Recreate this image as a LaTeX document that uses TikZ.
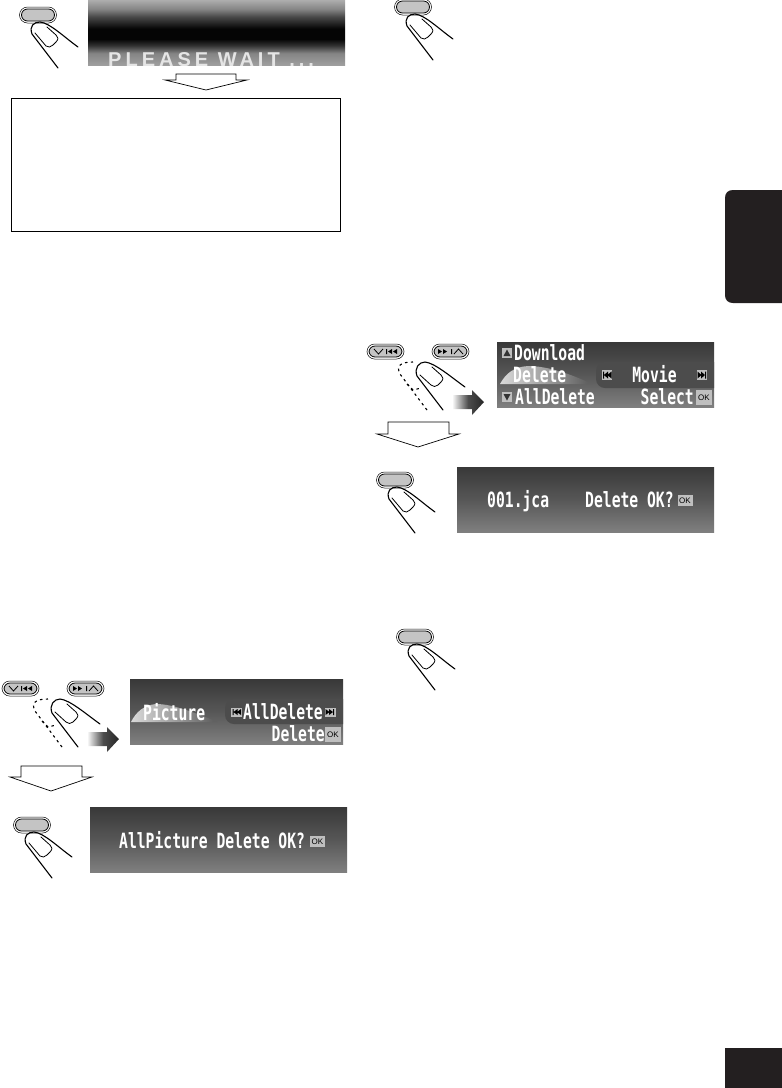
\documentclass[tikz,border=0pt]{standalone}
\usepackage{fontspec}
\newfontfamily\lcdfont[FakeStretch=0.7]{DejaVu Sans Mono Bold}
\newfontfamily\sansb{Liberation Sans}
\newfontfamily\waitfont[LetterSpace=20]{Liberation Sans Bold}
\definecolor{ink}{HTML}{231F20}
\definecolor{btn}{HTML}{C4C4C4}
\pgfdeclareverticalshading{lcdgrad}{100bp}{color(0bp)=(black!50);color(25bp)=(black!50);color(50bp)=(black!66);color(75bp)=(black!78);color(100bp)=(black!78)}
\pgfdeclareverticalshading{waitgrad}{100bp}{color(0bp)=(black!38);color(25bp)=(black!38);color(34bp)=(black!48);color(40bp)=(black!80);color(45bp)=(black!98);color(53bp)=(black!98);color(62bp)=(black!72);color(68bp)=(black!48);color(75bp)=(black!32);color(100bp)=(black!32)}
\pgfdeclarehorizontalshading{arrowgrad}{100bp}{color(0bp)=(white);color(25bp)=(white);color(50bp)=(black!70);color(75bp)=(black!85);color(100bp)=(black!85)}
\pgfdeclarehorizontalshading{swoosh}{100bp}{color(0bp)=(black!15);color(25bp)=(black!15);color(50bp)=(black!38);color(72bp)=(black!62);color(100bp)=(black!62)}
\tikzset{
  px/.style={x=1pt,y=-1pt},
  lcdbox/.style={shading=lcdgrad},
  lcdtxt/.style={text=white,font=\lcdfont\fontsize{21}{21}\selectfont,inner sep=0pt},
  oktag/.style={fill=black!25,text=black,font=\sansb\fontsize{8}{8}\selectfont,inner sep=0pt,minimum width=16pt,minimum height=15pt},
  oksmall/.style={oktag,minimum width=15pt,minimum height=11pt},
  skipbox/.style={fill=black!25},
  fingerline/.style={draw=black,line width=1.1pt,line cap=round,line join=round},
  nailline/.style={draw=black,line width=.8pt,line cap=round,line join=round},
  ghostline/.style={draw=black,line width=1.1pt,dash pattern=on 2.5pt off 3.5pt},
  flowarrow/.style={draw=black,line width=.7pt,fill=white,line join=miter},
  panel/.style={fill=black!70,rounded corners=9pt},
  pics/pressbtn/.style={code={
    \draw[black,line width=.5pt,fill=white,rounded corners=8pt] (-18.5,-8) rectangle (18.5,8);
    \draw[black,line width=.8pt,fill=btn,rounded corners=6pt] (-16.5,-6) rectangle (16.5,6);
    \draw[fingerline] (20,53) -- (-6,19) .. controls (-9,11) and (-4,7) .. (2,7) .. controls (12,8) and (26,22) .. (40,32);
    \draw[nailline] (-3,18) -- (8,31) .. controls (10,33) and (13,32) .. (15,30) -- (18,27) .. controls (21,24) and (20,22) .. (18,20) -- (9,12);
  }},
  pics/slidehand/.style={code={
    \draw[black,line width=.5pt,fill=white,rounded corners=7.5pt] (0,0) rectangle (37,15);
    \draw[black,line width=.8pt,fill=btn,rounded corners=6pt] (2,2) rectangle (35,13);
    \draw[black,line width=.8pt] (7,5) -- (11.5,10) -- (16,5);
    \fill[black] (19,5) rectangle (20,10) (25,5) -- (21,7.5) -- (25,10) -- cycle (30,5) -- (26,7.5) -- (30,10) -- cycle;
    \draw[black,line width=.5pt,fill=white,rounded corners=7.5pt] (65,0) rectangle (102,15);
    \draw[black,line width=.8pt,fill=btn,rounded corners=6pt] (67,2) rectangle (100,13);
    \draw[black,line width=.8pt] (87,10) -- (91.5,5) -- (96,10);
    \fill[black] (84,5) rectangle (85,10) (71,5) -- (75,7.5) -- (71,10) -- cycle (76,5) -- (80,7.5) -- (76,10) -- cycle;
    \draw[ghostline] (60,66) -- (33,30) .. controls (29,22) and (33,18) .. (46,18);
    \draw[ghostline] (40,40) -- (46,46) -- (54,44);
    \draw[fingerline] (76,66) -- (50,32) .. controls (47,24) and (52,18) .. (58,18) .. controls (68,19) and (84,33) .. (98,43);
    \draw[nailline] (53,31) -- (64,41) .. controls (66,43) and (69,43) .. (71,41) -- (74,38) .. controls (77,35) and (76,33) .. (74,31) -- (65,23);
    \shade[shading=arrowgrad] (85,51) -- (105,51) -- (105,46) -- (117,58) -- (105,71) -- (105,65) -- (85,65) -- cycle;
  }}
}
\begin{document}
\begin{tikzpicture}[px]
\useasboundingbox (0,0) rectangle (782,1088);
\fill[white] (0,0) rectangle (782,1088);

% side tab and page tab
\fill[ink] (782,190) -- (733,190) .. controls (728,190) and (725,193) .. (725,198) -- (725,295) .. controls (725,300) and (728,303) .. (733,303) -- (782,303) -- cycle;
\fill[ink] (725,1048) rectangle (782,1088);

% top left
\pic at (38,15) {pressbtn};
\shade[shading=waitgrad] (88,0) rectangle (345,65);
\begin{scope}
\clip (88,0) rectangle (345,65);
\node[text=black!10,font=\waitfont\fontsize{20}{20}\selectfont,inner sep=0pt,anchor=base west] (waittext) at (108,66.5) {PLEASE WAIT ...};
\end{scope}
\draw[flowarrow] (176,80) -- (176,74) -- (236,74) -- (236,80) -- (247,80) -- (206,90) -- (165,80) -- cycle;
\draw[black,line width=.8pt] (11.7,98.7) rectangle (340.7,231);

% top right
\pic at (413,7) {pressbtn};

% middle right: menu display
\pic at (367,344) {slidehand};
\shade[lcdbox] (497,342) rectangle (714,407);
\begin{scope}
\clip (497,342) rectangle (714,407);
\shade[shading=swoosh] (500,384) .. controls (506,373) and (514,367) .. (528,366) .. controls (550,366) and (575,376) .. (592,384) -- cycle;
\fill[panel] (596,362) rectangle (730,388);
\end{scope}
\fill[skipbox] (502,348) rectangle (512,358);
\fill[black!80] (507,349.5) -- (503.5,356) -- (510.5,356) -- cycle;
\fill[skipbox] (502,392) rectangle (512,402);
\fill[black!80] (503.5,394) -- (510.5,394) -- (507,400.5) -- cycle;
\node[lcdtxt,anchor=base west] (m1) at (514,360.5) {Download};
\node[lcdtxt,anchor=base west] (m2) at (513,382.5) {Delete};
\node[lcdtxt,anchor=base west] (m3) at (515,404.5) {AllDelete};
\node[lcdtxt,anchor=base] (m4) at (654.5,382.5) {Movie};
\node[lcdtxt,anchor=base east] (m5) at (694,404.5) {Select};
\node[oktag] (m6) at (704,397.5) {OK};
\begin{scope}[shift={(607,375)}]
\fill[skipbox] (-5,-5) rectangle (5,5);
\fill[black] (-4,-3.5) rectangle (-3,3.5) (1,-3.5) -- (-3,0) -- (1,3.5) -- cycle (4.5,-3.5) -- (.5,0) -- (4.5,3.5) -- cycle;
\end{scope}
\begin{scope}[shift={(702,375)}]
\fill[skipbox] (-5,-5) rectangle (5,5);
\fill[black] (4,-3.5) rectangle (3,3.5) (-1,-3.5) -- (3,0) -- (-1,3.5) -- cycle (-4.5,-3.5) -- (-.5,0) -- (-4.5,3.5) -- cycle;
\end{scope}
\draw[flowarrow] (388,434) -- (388,422) -- (449,422) -- (449,434) -- (459,434) -- (418,447) -- (377,434) -- cycle;

% middle right: confirm display
\pic at (395,480) {pressbtn};
\shade[lcdbox] (457,467) rectangle (714,532);
\node[lcdtxt,anchor=base west] (c1) at (487,507.5) {001.jca};
\node[lcdtxt,anchor=base west] (c2) at (585,507.5) {Delete OK?};
\node[oksmall] (c3) at (685,500.5) {OK};

% lower right
\pic at (415,637) {pressbtn};

% left: menu display
\pic at (2,681) {slidehand};
\shade[lcdbox] (130,679) rectangle (343,744);
\begin{scope}
\clip (130,679) rectangle (343,744);
\shade[shading=swoosh] (131,722) .. controls (136,712) and (144,705) .. (156,704) .. controls (175,704) and (200,715) .. (218,722) -- cycle;
\fill[panel] (225,699) rectangle (360,724);
\end{scope}
\node[lcdtxt,anchor=base west] (l1) at (143,720.5) {Picture};
\node[lcdtxt,anchor=base west] (l2) at (243,719.5) {AllDelete};
\node[lcdtxt,anchor=base east] (l3) at (325,741.5) {Delete};
\node[oktag] (l4) at (333,734.5) {OK};
\begin{scope}[shift={(236.5,712)}]
\fill[skipbox] (-5.5,-4.5) rectangle (5.5,4.5);
\fill[black] (-4,-3) rectangle (-3,3) (1,-3) -- (-3,0) -- (1,3) -- cycle (4.5,-3) -- (.5,0) -- (4.5,3) -- cycle;
\end{scope}
\begin{scope}[shift={(330,712)}]
\fill[skipbox] (-5.5,-4.5) rectangle (5.5,4.5);
\fill[black] (4,-3) rectangle (3,3) (-1,-3) -- (3,0) -- (-1,3) -- cycle (-4.5,-3) -- (-.5,0) -- (-4.5,3) -- cycle;
\end{scope}
\draw[flowarrow] (21,777) -- (21,766) -- (82,766) -- (82,777) -- (92,777) -- (51,791) -- (10,777) -- cycle;

% left: confirm display
\pic at (32,825) {pressbtn};
\shade[lcdbox] (90,807) rectangle (347,872);
\node[lcdtxt,anchor=base west] (k1) at (119,848.5) {AllPicture Delete OK?};
\node[oksmall] (k2) at (317.5,841.5) {OK};
\end{tikzpicture}
\end{document}
